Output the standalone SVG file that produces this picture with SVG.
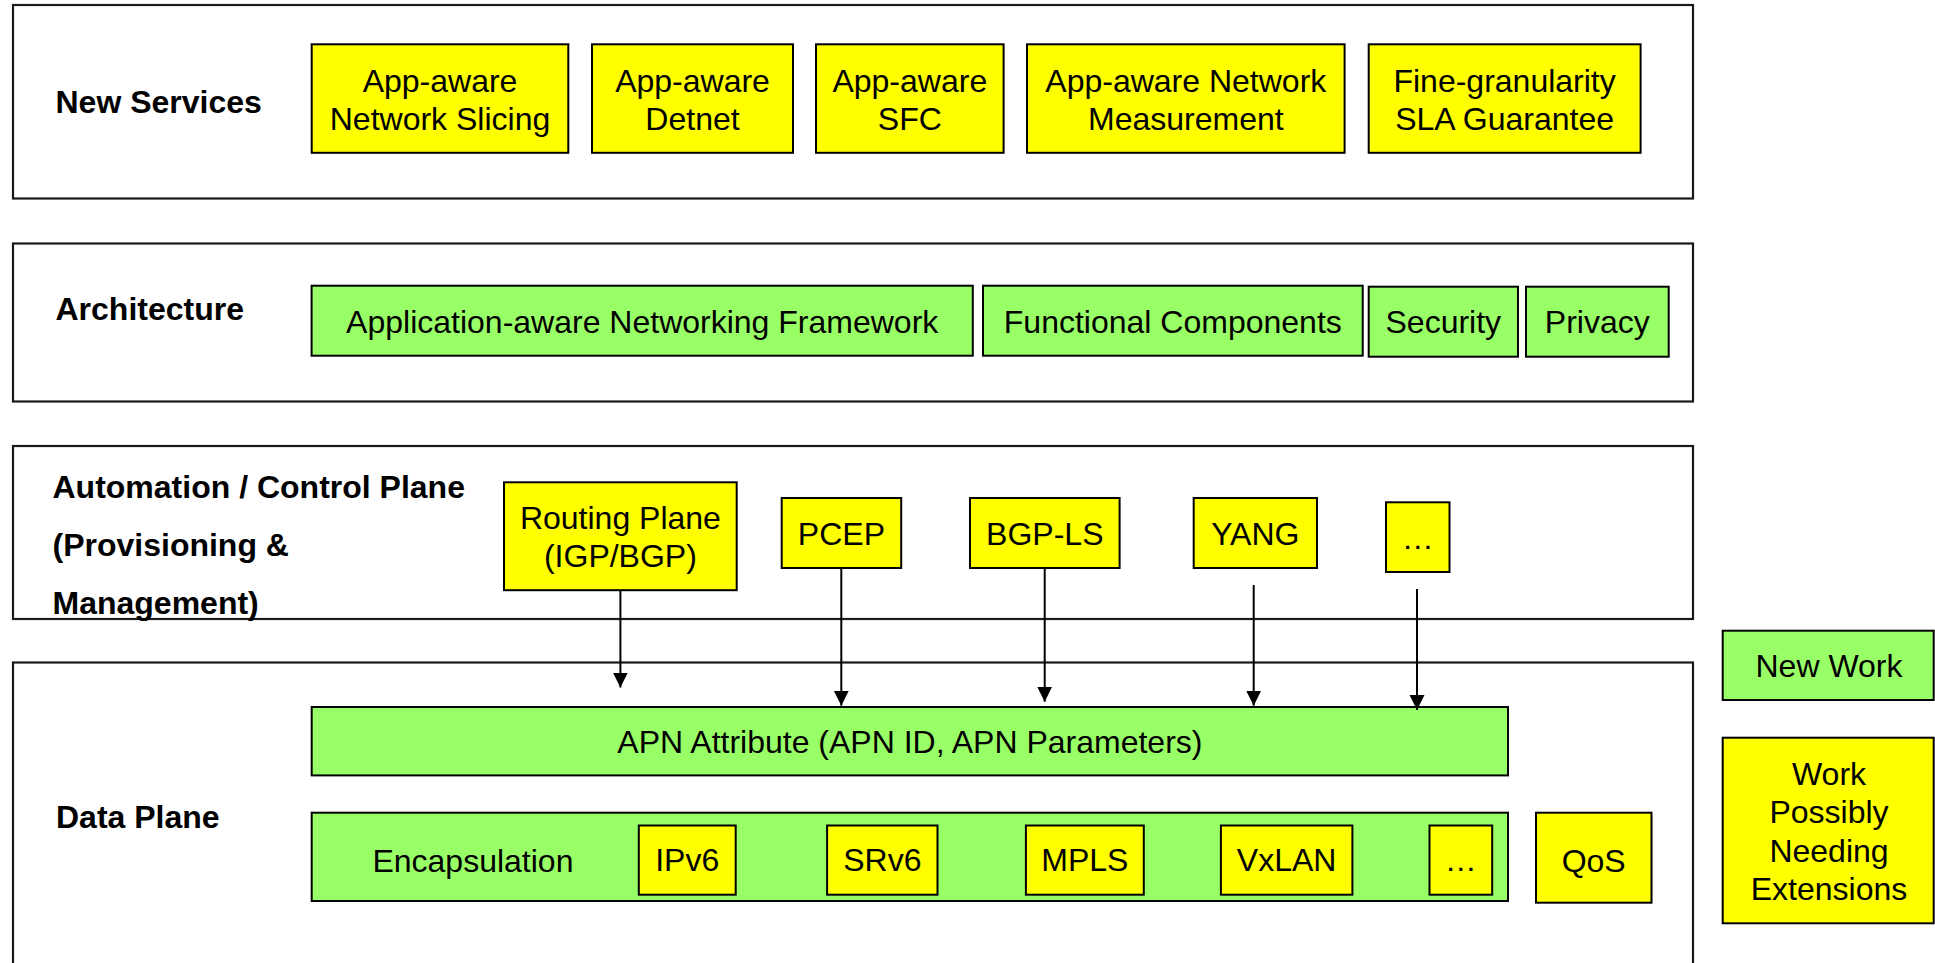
<svg xmlns="http://www.w3.org/2000/svg" width="1935" height="963" viewBox="0 0 1935 963">
<style>
.layer{fill:#ffffff;stroke:#1a1a1a;stroke-width:2.2}
.y{fill:#ffff00;stroke:#000;stroke-width:2}
.g{fill:#99ff66;stroke:#000;stroke-width:2}
text{font-family:"Liberation Sans",Arial,sans-serif;font-size:32px;fill:#000}
.c{text-anchor:middle}
.b{font-weight:bold}
.conn{stroke:#000;stroke-width:2;fill:none}
</style>
<defs>
<marker id="ah" markerUnits="userSpaceOnUse" markerWidth="16" markerHeight="16" refX="15" refY="7.5" orient="auto">
<path d="M0,0 L15,7.5 L0,15 z" fill="#000"/>
</marker>
</defs>
<rect width="1935" height="963" fill="#ffffff"/>

<g id="layer-new-services">
<rect class="layer" x="13" y="5" width="1680" height="193.5"/>
<text class="b" x="55.5" y="112.5">New Services</text>
</g>
<g id="layer-architecture">
<rect class="layer" x="13" y="243.5" width="1680" height="158"/>
<text class="b" x="55.5" y="319.5">Architecture</text>
</g>
<g id="layer-control">
<rect class="layer" x="13" y="446" width="1680" height="173"/>
<text class="b" x="52.5" y="498">Automation / Control Plane</text>
<text class="b" x="52.5" y="556">(Provisioning &amp;</text>
<text class="b" x="52.5" y="614">Management)</text>
</g>
<g id="layer-data">
<rect class="layer" x="13" y="662.5" width="1680" height="330"/>
<text class="b" x="56" y="828">Data Plane</text>
</g>

<g id="n-slicing"><rect class="y" x="311.7" y="44.3" width="256.6" height="108.5"/><text class="c" x="440" y="91.7">App-aware</text><text class="c" x="440" y="129.5">Network Slicing</text></g>
<g id="n-detnet"><rect class="y" x="592" y="44.3" width="201" height="108.5"/><text class="c" x="692.5" y="91.7">App-aware</text><text class="c" x="692.5" y="129.5">Detnet</text></g>
<g id="n-sfc"><rect class="y" x="816" y="44.3" width="187.6" height="108.5"/><text class="c" x="909.8" y="91.7">App-aware</text><text class="c" x="909.8" y="129.5">SFC</text></g>
<g id="n-measurement"><rect class="y" x="1027" y="44.3" width="317.6" height="108.5"/><text class="c" x="1185.8" y="91.7">App-aware Network</text><text class="c" x="1185.8" y="129.5">Measurement</text></g>
<g id="n-sla"><rect class="y" x="1368.7" y="44.3" width="271.9" height="108.5"/><text class="c" x="1504.6" y="91.7">Fine-granularity</text><text class="c" x="1504.6" y="129.5">SLA Guarantee</text></g>

<g id="n-framework"><rect class="g" x="311.6" y="285.7" width="661.2" height="70"/><text class="c" x="642.2" y="332.5">Application-aware Networking Framework</text></g>
<g id="n-functional"><rect class="g" x="983" y="285.7" width="379.7" height="70"/><text class="c" x="1172.8" y="332.5">Functional Components</text></g>
<g id="n-security"><rect class="g" x="1368.7" y="286.7" width="149.3" height="70"/><text class="c" x="1443.3" y="333.2">Security</text></g>
<g id="n-privacy"><rect class="g" x="1526" y="286.7" width="142.7" height="70"/><text class="c" x="1597.3" y="333.2">Privacy</text></g>

<g id="n-routing"><rect class="y" x="504" y="482.3" width="232.7" height="107.9"/><text class="c" x="620.4" y="528.5">Routing Plane</text><text class="c" x="620.4" y="567">(IGP/BGP)</text></g>
<g id="n-pcep"><rect class="y" x="781.7" y="498" width="119.5" height="70"/><text class="c" x="841.4" y="545">PCEP</text></g>
<g id="n-bgpls"><rect class="y" x="970" y="498" width="149.6" height="70"/><text class="c" x="1044.8" y="545">BGP-LS</text></g>
<g id="n-yang"><rect class="y" x="1193.7" y="498" width="123.3" height="70"/><text class="c" x="1255.3" y="545">YANG</text></g>
<g id="n-cp-more"><rect class="y" x="1386" y="502.3" width="63.5" height="69.7"/><text class="c" x="1417.7" y="549">…</text></g>

<g id="n-apn"><rect class="g" x="311.7" y="707" width="1196.3" height="68.4"/><text class="c" x="909.9" y="752.5">APN Attribute (APN ID, APN Parameters)</text></g>
<g id="n-encap"><rect class="g" x="311.7" y="812.7" width="1196.3" height="88.3"/><text x="372.4" y="871.8">Encapsulation</text></g>
<g id="n-ipv6"><rect class="y" x="638.8" y="825.5" width="96.9" height="69.2"/><text class="c" x="687.2" y="870.5">IPv6</text></g>
<g id="n-srv6"><rect class="y" x="827.1" y="825.5" width="110.4" height="69.2"/><text class="c" x="882.3" y="870.5">SRv6</text></g>
<g id="n-mpls"><rect class="y" x="1025.9" y="825.5" width="117.9" height="69.2"/><text class="c" x="1084.8" y="870.5">MPLS</text></g>
<g id="n-vxlan"><rect class="y" x="1220.9" y="825.5" width="131.5" height="69.2"/><text class="c" x="1286.6" y="870.5">VxLAN</text></g>
<g id="n-encap-more"><rect class="y" x="1429.5" y="825.5" width="62.7" height="69.2"/><text class="c" x="1460.8" y="870.5">…</text></g>
<g id="n-qos"><rect class="y" x="1536" y="812.7" width="115.5" height="90"/><text class="c" x="1593.7" y="871.8">QoS</text></g>

<g id="legend-new-work"><rect class="g" x="1722.7" y="630.7" width="211" height="69.3"/><text class="c" x="1829" y="677">New Work</text></g>
<g id="legend-extensions"><rect class="y" x="1722.7" y="737.7" width="211" height="185.6"/><text class="c" x="1829" y="784.5">Work</text><text class="c" x="1829" y="823">Possibly</text><text class="c" x="1829" y="861.5">Needing</text><text class="c" x="1829" y="899.5">Extensions</text></g>

<g id="connectors">
<line class="conn" x1="620.4" y1="590.2" x2="620.4" y2="687.5" marker-end="url(#ah)"/>
<line class="conn" x1="841.3" y1="568" x2="841.3" y2="705.7" marker-end="url(#ah)"/>
<line class="conn" x1="1044.7" y1="568" x2="1044.7" y2="701.7" marker-end="url(#ah)"/>
<line class="conn" x1="1253.7" y1="585" x2="1253.7" y2="705.7" marker-end="url(#ah)"/>
<line class="conn" x1="1417" y1="589" x2="1417" y2="710" marker-end="url(#ah)"/>
</g>
</svg>
